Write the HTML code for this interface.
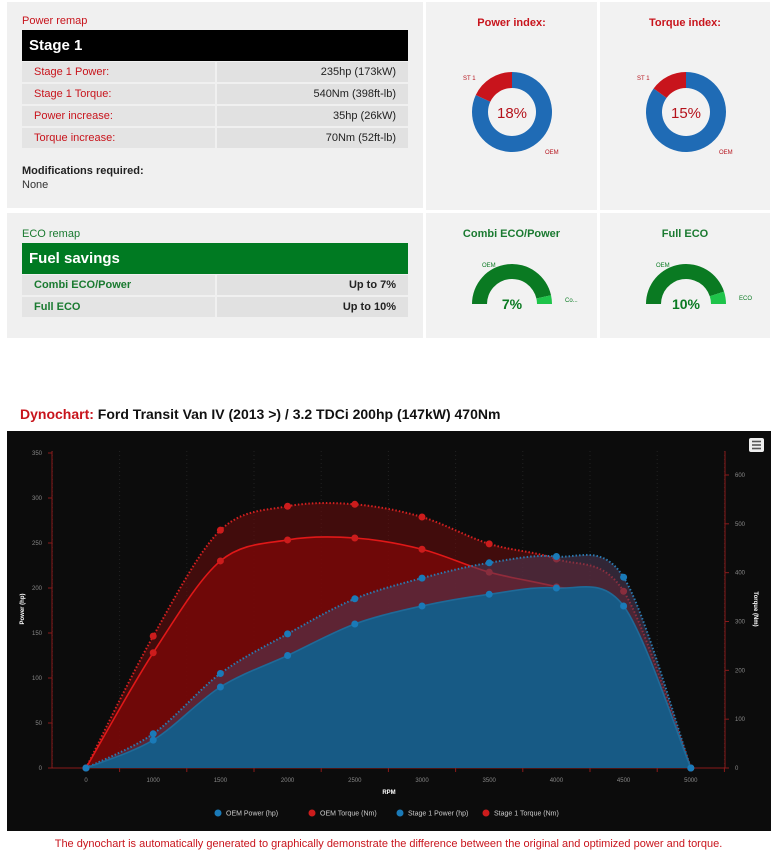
<!DOCTYPE html>
<html><head><meta charset="utf-8"><style>
body{margin:0;width:777px;height:859px;background:#fff;font-family:"Liberation Sans",sans-serif;position:relative;overflow:hidden}
.abs{position:absolute}
.panel{position:absolute;background:#f0f0f0}
.row{position:absolute;left:22px;width:386px;height:20px;font-size:11px}
.row .l{position:absolute;left:0;width:193px;height:20px;background:#e4e4e4;line-height:20px;text-indent:12px}
.row .v{position:absolute;left:195px;width:191px;height:20px;background:#e1e1e1;line-height:20px;text-align:right;box-sizing:border-box;padding-right:12px;color:#222}
.red{color:#c8141c}.green{color:#1a7a30}
.ttl{position:absolute;width:100%;text-align:center;font-size:11px;font-weight:bold;top:15px}
</style></head><body>
<div class="panel" style="left:7px;top:2px;width:416px;height:206px"></div>
<div class="abs red" style="left:22px;top:15px;font-size:11px">Power remap</div>
<div class="abs" style="left:22px;top:30px;width:386px;height:31px;background:#000;color:#fff;font-weight:bold;font-size:15px;line-height:31px;text-indent:7px">Stage 1</div>
<div class="row" style="top:62px"><div class="l red">Stage 1 Power:</div><div class="v">235hp (173kW)</div></div>
<div class="row" style="top:84px"><div class="l red">Stage 1 Torque:</div><div class="v">540Nm (398ft-lb)</div></div>
<div class="row" style="top:106px"><div class="l red">Power increase:</div><div class="v">35hp (26kW)</div></div>
<div class="row" style="top:128px"><div class="l red">Torque increase:</div><div class="v">70Nm (52ft-lb)</div></div>
<div class="abs" style="left:22px;top:165px;font-size:11px;font-weight:bold;color:#222">Modifications required:</div>
<div class="abs" style="left:22px;top:179px;font-size:11px;color:#333">None</div>

<div class="panel" style="left:7px;top:213px;width:416px;height:125px"></div>
<div class="abs green" style="left:22px;top:228px;font-size:11px">ECO remap</div>
<div class="abs" style="left:22px;top:243px;width:386px;height:31px;background:#007a22;color:#fff;font-weight:bold;font-size:15px;line-height:31px;text-indent:7px">Fuel savings</div>
<div class="row" style="top:275px"><div class="l green" style="font-weight:bold">Combi ECO/Power</div><div class="v green" style="font-weight:bold">Up to 7%</div></div>
<div class="row" style="top:297px"><div class="l green" style="font-weight:bold">Full ECO</div><div class="v green" style="font-weight:bold">Up to 10%</div></div>

<div class="panel" style="left:426px;top:2px;width:171px;height:208px;background:#f2f2f2"><div class="ttl red">Power index:</div></div>
<div class="panel" style="left:600px;top:2px;width:170px;height:208px;background:#f2f2f2"><div class="ttl red">Torque index:</div></div>
<div class="panel" style="left:426px;top:213px;width:171px;height:125px;background:#f2f2f2"><div class="ttl green">Combi ECO/Power</div></div>
<div class="panel" style="left:600px;top:213px;width:170px;height:125px;background:#f2f2f2"><div class="ttl green">Full ECO</div></div>
<svg class="abs" style="left:0;top:0" width="777" height="340" id="gauges"></svg>

<div class="abs" style="left:20px;top:406px;font-size:14px;font-weight:bold;color:#111"><span class="red">Dynochart:</span> Ford Transit Van IV (2013 &gt;) / 3.2 TDCi 200hp (147kW) 470Nm</div>
<svg class="abs" id="chart" style="left:7px;top:431px" width="764" height="400"></svg>
<div class="abs" style="left:0;width:777px;top:838px;text-align:center;font-size:11px;color:#c8141c">The dynochart is automatically generated to graphically demonstrate the difference between the original and optimized power and torque.</div>

<script>
const NS='http://www.w3.org/2000/svg';
function mk(p,t,a){const e=document.createElementNS(NS,t);for(const k in a)e.setAttribute(k,a[k]);p.appendChild(e);return e;}
// gauges
const donutPercents=[18,15];
const ecoPercents=[7,10];
const g=document.getElementById('gauges');
function arc(cx,cy,r0,r1,a0,a1){const p=(r,a)=>[cx+r*Math.sin(a),cy-r*Math.cos(a)];const lg=Math.abs(a1-a0)>Math.PI?1:0;const sw=a1>a0?1:0;
const A=p(r1,a0),B=p(r1,a1),C=p(r0,a1),D=p(r0,a0);
return `M${A} A${r1},${r1} 0 ${lg} ${sw} ${B} L${C} A${r0},${r0} 0 ${lg} ${1-sw} ${D}Z`;}
[512,686].forEach((cx,i)=>{const pct=donutPercents[i];const a=-pct/100*2*Math.PI;
const o=mk(g,'path',{d:arc(cx,112,24,40,0,2*Math.PI+a),fill:'#1f6bb5'});


const s=mk(g,'path',{d:arc(cx,112,24,40,a,0),fill:'#c8141c'});


const t=mk(g,'text',{x:cx,y:118,'text-anchor':'middle','font-size':15,fill:'#b5121b','font-family':'Liberation Sans'});t.textContent=pct+'%';
const l1=mk(g,'text',{x:cx-49,y:80,'font-size':6,fill:'#b5121b','font-family':'Liberation Sans'});l1.textContent='ST 1';
const l2=mk(g,'text',{x:cx+33,y:154,'font-size':6,fill:'#b5121b','font-family':'Liberation Sans'});l2.textContent='OEM';
});
[512,686].forEach((cx,i)=>{const pct=ecoPercents[i];const split=-Math.PI/2+Math.PI*(1-pct/100);
const o=mk(g,'path',{d:arc(cx,304,25,40,-Math.PI/2,split),fill:'#0a7a22'});


const e=mk(g,'path',{d:arc(cx,304,25,40,split,Math.PI/2),fill:'#1ec44a'});


const t=mk(g,'text',{x:cx,y:309,'text-anchor':'middle','font-size':14,'font-weight':'bold',fill:'#0a7a22','font-family':'Liberation Sans'});t.textContent=pct+'%';
const l1=mk(g,'text',{x:cx-30,y:267,'font-size':6,fill:'#0a7a22','font-family':'Liberation Sans'});l1.textContent='OEM';
const l2=mk(g,'text',{x:cx+53,y:i?300:302,'font-size':6,fill:'#0a7a22','font-family':'Liberation Sans'});l2.textContent=i?'ECO':'Co...';
});

// chart data
const rpm=['0','1000','1500','2000','2500','3000','3500','4000','4500','5000'];
const oemPower=[0,31,90,125,160,180,193,200,180,0];
const stagePower=[0,38,105,149,188,211,228,235,212,0];
const oemTorque=[0,236,424,467,471,448,401,371,330,0];
const stageTorque=[0,270,487,536,540,514,459,428,362,0];
const leftTicks=[0,50,100,150,200,250,300,350];
const rightTicks=[0,100,200,300,400,500,600];

const c=document.getElementById('chart');
mk(c,'rect',{x:0,y:0,width:764,height:400,fill:'#0c0c0c'});
const X0=79,STEP=67.2,Y0=337;
const x=i=>X0+i*STEP;
const yL=v=>Y0-v*0.9;
const yR=v=>Y0-v*293/600;
// grid
for(let i=0;i<=rpm.length;i++){const gx=x(i)-STEP/2;const l=mk(c,'line',{x1:gx,x2:gx,y1:20,y2:Y0,stroke:'#222','stroke-dasharray':'1,3'});}
// axes
mk(c,'line',{x1:45,x2:45,y1:20,y2:Y0,stroke:'#8a1a1a'});
mk(c,'line',{x1:718,x2:718,y1:20,y2:Y0,stroke:'#8a1a1a'});
mk(c,'line',{x1:45,x2:718,y1:Y0,y2:Y0,stroke:'#8a1a1a'});
leftTicks.forEach(v=>{mk(c,'line',{x1:41,x2:45,y1:yL(v),y2:yL(v),stroke:'#8a1a1a'});const t=mk(c,'text',{x:35,y:yL(v)+2,'text-anchor':'end','font-size':6,fill:'#888'});t.textContent=v;});
rightTicks.forEach(v=>{mk(c,'line',{x1:718,x2:722,y1:yR(v),y2:yR(v),stroke:'#8a1a1a'});const t=mk(c,'text',{x:728,y:yR(v)+2,'font-size':6,fill:'#888'});t.textContent=v;});
rpm.forEach((r,i)=>{mk(c,'line',{x1:x(i)+STEP/2,x2:x(i)+STEP/2,y1:Y0,y2:Y0+4,stroke:'#8a1a1a'});const t=mk(c,'text',{x:x(i),y:Y0+14,'text-anchor':'middle','font-size':6,fill:'#888'});t.textContent=r;});
let t=mk(c,'text',{x:382,y:363,'text-anchor':'middle','font-size':6,fill:'#fff','font-weight':'bold'});t.textContent='RPM';
t=mk(c,'text',{x:0,y:0,'text-anchor':'middle','font-size':6,fill:'#fff','font-weight':'bold',transform:'translate(17,178) rotate(-90)'});t.textContent='Power (hp)';
t=mk(c,'text',{x:0,y:0,'text-anchor':'middle','font-size':6,fill:'#fff','font-weight':'bold',transform:'translate(747,178) rotate(90)'});t.textContent='Torque (Nm)';
// menu
mk(c,'rect',{x:742,y:7,width:15,height:14,rx:2,fill:'#eee'});
[10.5,14,17.5].forEach(yy=>mk(c,'line',{x1:745,x2:754,y1:yy,y2:yy,stroke:'#555','stroke-width':1.6}));
function path(vals,yf){const P=vals.map((v,i)=>[x(i),yf(v)]);let d=`M${P[0][0]},${P[0][1]}`;
for(let i=0;i<P.length-1;i++){const p0=P[Math.max(0,i-1)],p1=P[i],p2=P[i+1],p3=P[Math.min(P.length-1,i+2)];const k=0.16;
const c1=[p1[0]+(p2[0]-p0[0])*k,Math.min(Y0,p1[1]+(p2[1]-p0[1])*k)],c2=[p2[0]-(p3[0]-p1[0])*k,Math.min(Y0,p2[1]-(p3[1]-p1[1])*k)];
d+=` C${c1} ${c2} ${p2}`;}return d;}
function series(vals,yf,fill,stroke,dotted,col,name){
const d=path(vals,yf);
const a=mk(c,'path',{d:d+` L${x(vals.length-1)},${Y0} L${x(0)},${Y0}Z`,fill:fill});


const l=mk(c,'path',{d:d,fill:'none',stroke:stroke,'stroke-width':dotted?2:1.6,'stroke-dasharray':dotted?'1.5,2':'none'});


vals.forEach((v,i)=>{const m=mk(c,'circle',{cx:x(i),cy:yf(v),r:3.5,fill:col});

});}
series(stageTorque,yR,'rgba(110,12,12,0.55)','#d42020',true,'#cc1c1c','stage1-torque');
series(oemTorque,yR,'rgba(120,8,8,0.85)','#e01818',false,'#cc1c1c','oem-torque');
series(stagePower,yL,'rgba(80,60,90,0.55)','#2a7ab0',true,'#1a7ab8','stage1-power');
series(oemPower,yL,'#175a85','#1f6a98',false,'#1a7ab8','oem-power');
// legend
const leg=[['OEM Power (hp)','#1a7ab8',208],['OEM Torque (Nm)','#cc1c1c',302],['Stage 1 Power (hp)','#1a7ab8',390],['Stage 1 Torque (Nm)','#cc1c1c',476]];
leg.forEach(([n,col,lx])=>{const gg=mk(c,'g',{});

mk(gg,'circle',{cx:lx+3,cy:382,r:3.5,fill:col});const tt=mk(gg,'text',{x:lx+11,y:384.5,'font-size':7,fill:'#ccc'});tt.textContent=n;});
</script>
</body></html>
